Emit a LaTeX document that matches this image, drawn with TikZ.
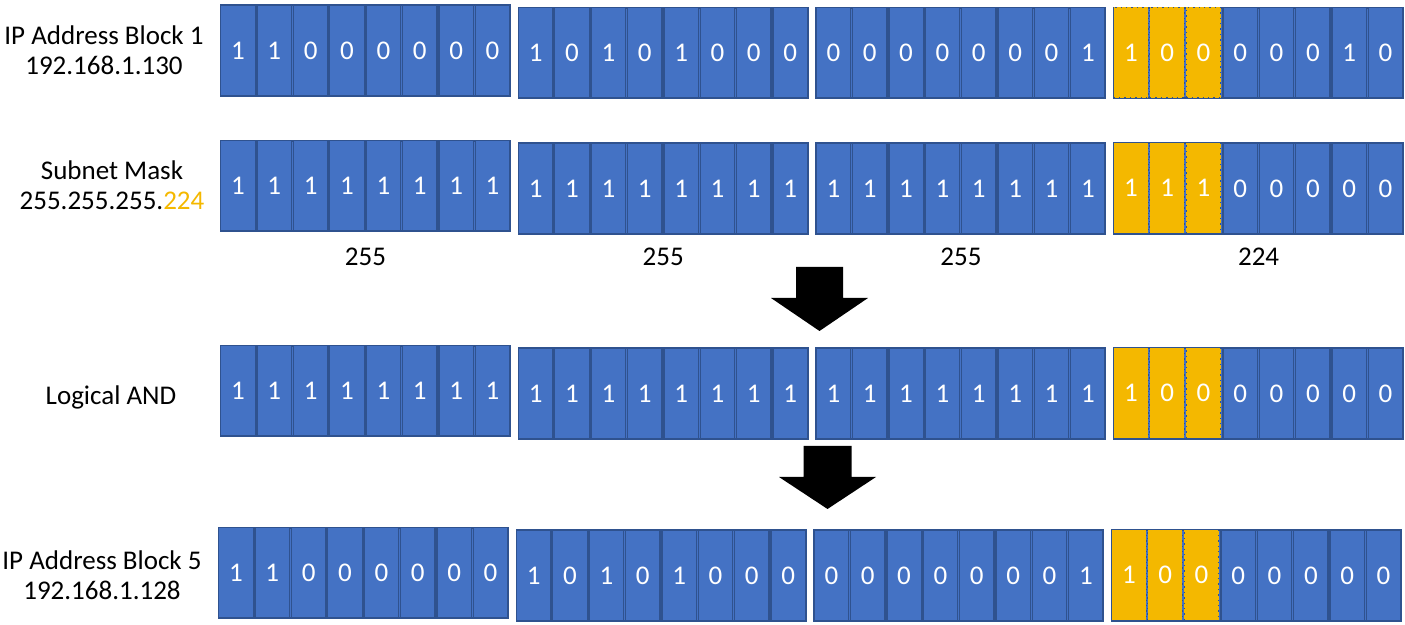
\documentclass[tikz,border=0pt]{standalone}
\usepackage{fontspec}
\setmainfont{Carlito}
\usetikzlibrary{positioning}
\definecolor{bitblue}{HTML}{4472C4}
\definecolor{bitline}{HTML}{2F528F}
\definecolor{bitgold}{HTML}{F4B800}
\tikzset{
  byte/.style={draw=bitline, fill=bitblue, line width=1pt, minimum width=144.5pt, minimum height=45.25pt, inner sep=0pt, anchor=north west},
  bit/.style={draw=bitline, fill=bitblue, line width=0.7pt, minimum width=17.25pt, minimum height=45.25pt, inner sep=0pt, anchor=north west, text=white, font=\fontsize{13.5}{16}\selectfont},
  hibit/.style={bit, fill=bitgold, dotted, line width=0.5pt},
  rowlabel/.style={align=center, font=\fontsize{13.5}{15}\selectfont},
  bigarrow/.style={fill=black}
}
\newcommand{\bitrow}[4]{
  \foreach \k in {0, 1, 2, 3}{
    \pgfmathsetmacro{\bx}{220 + #3 + 297.7*\k}
    \pgfmathsetmacro{\by}{#2 - (\k == 0)*2.5}
    \node [byte] (#1-\k) at (\bx, \by) {};
  }
  \foreach \b [count=\i from 0] in {#4}{
    \pgfmathtruncatemacro{\k}{\i/8}
    \pgfmathtruncatemacro{\c}{\i - 8*\k}
    \pgfmathtruncatemacro{\hi}{(\k == 3) && (\c < 3)}
    \pgfmathsetmacro{\bx}{220 + #3 + 297.7*\k + 36.36*\c}
    \pgfmathsetmacro{\by}{#2 - (\k == 0)*2.5}
    \ifnum\hi=1
      \node [hibit] (#1c\i) at (\bx, \by) {\b};
    \else
      \node [bit] (#1c\i) at (\bx, \by) {\b};
    \fi
  }
}
\begin{document}
\begin{tikzpicture}[x=0.5pt, y=-0.5pt]
\useasboundingbox (0, 0) rectangle (1405, 625);
\bitrow{ba}{7}{0}{1,1,0,0,0,0,0,0, 1,0,1,0,1,0,0,0, 0,0,0,0,0,0,0,1, 1,0,0,0,0,0,1,0}
\bitrow{bb}{142.5}{0}{1,1,1,1,1,1,1,1, 1,1,1,1,1,1,1,1, 1,1,1,1,1,1,1,1, 1,1,1,0,0,0,0,0}
\bitrow{bc}{347.5}{0}{1,1,1,1,1,1,1,1, 1,1,1,1,1,1,1,1, 1,1,1,1,1,1,1,1, 1,0,0,0,0,0,0,0}
\bitrow{bd}{529.5}{-2}{1,1,0,0,0,0,0,0, 1,0,1,0,1,0,0,0, 0,0,0,0,0,0,0,1, 1,0,0,0,0,0,0,0}
\node [rowlabel] (ipone) at (104, 50) {IP Address Block 1\\192.168.1.130};
\node [rowlabel] (mask) at (112, 185) {Subnet Mask\\255.255.255.\textcolor{bitgold}{224}};
\node [rowlabel] (andres) at (111, 397) {Logical AND};
\node [rowlabel] (ipfive) at (102, 575) {IP Address Block 5\\192.168.1.128};
\foreach \k/\v in {0/255, 1/255, 2/255, 3/224}{\node [rowlabel] (oct\k) at ([yshift=-11pt]bb-\k.south |- bb-1.south) {\v};}
\coordinate (downa) at (819.5, 267);
\coordinate (downb) at (827.5, 446);
\fill [bigarrow] (downa) ++(-23.5, 0) -- ++(47, 0) -- ++(0, 31) -- ++(25, 0) -- ++(-48.5, 33) -- ++(-48.5, -33) -- ++(25, 0) -- cycle;
\fill [bigarrow] (downb) ++(-24, 0) -- ++(48, 0) -- ++(0, 31) -- ++(24.5, 0) -- ++(-48.5, 32) -- ++(-48.5, -32) -- ++(24.5, 0) -- cycle;
\end{tikzpicture}
\end{document}
